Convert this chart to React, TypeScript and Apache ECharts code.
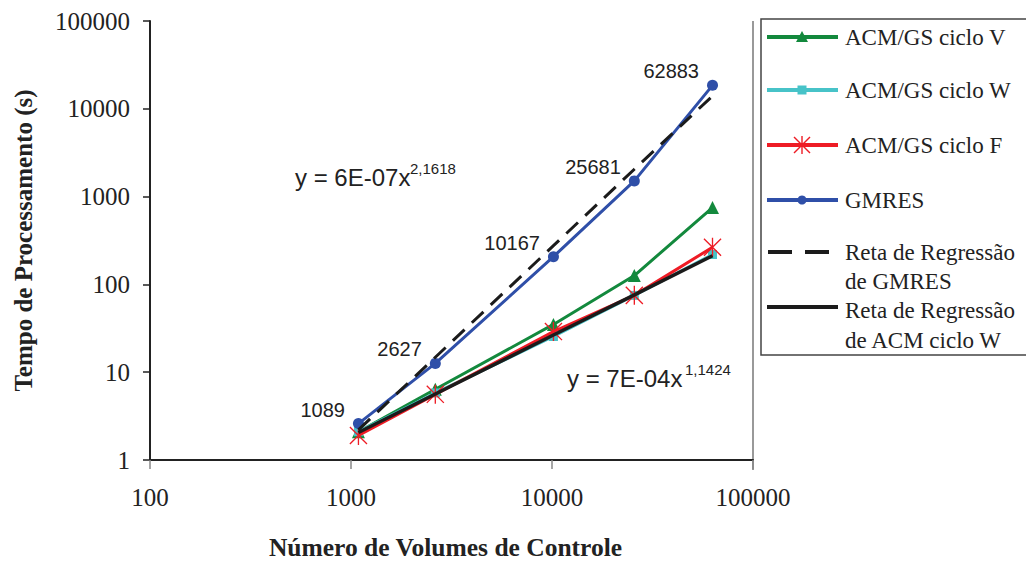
import React, { useEffect, useRef } from "react";
import * as echarts from "echarts";

// ---- data ----
const xValues = [1089, 2627, 10167, 25681, 62883];
const cicloV = [2.1, 6.4, 35, 126, 750];
const cicloW = [2.1, 5.8, 25.5, 75, 219];
const cicloF = [1.9, 5.6, 29, 75, 265];
const gmres = [2.6, 12.6, 207, 1510, 18500];
const regGmres = [2.2, 14.8, 276, 2050, 14000];
const regAcmW = [2.06, 5.65, 26.5, 76, 212];

const xTicks = [100, 1000, 10000, 100000];
const yTicks = [1, 10, 100, 1000, 10000, 100000];

const seriesNames = [
  "ACM/GS ciclo V",
  "ACM/GS ciclo W",
  "ACM/GS ciclo F",
  "GMRES",
  "Reta de Regressão de GMRES",
  "Reta de Regressão de ACM ciclo W",
];
// legend text lines for each entry
const legendLabels = [
  ["ACM/GS ciclo V"],
  ["ACM/GS ciclo W"],
  ["ACM/GS ciclo F"],
  ["GMRES"],
  ["Reta de Regressão", "de GMRES"],
  ["Reta de Regressão", "de ACM ciclo W"],
];
const eqGmres = ["y = 6E-07x", "2,1618"];
const eqAcm = ["y = 7E-04x", "1,1424"];

const GREEN = "#13893d";
const CYAN = "#47c3c8";
const RED = "#ee1c25";
const BLUE = "#2f4fa8";
const BLACK = "#1b1b1b";

const SERIF = "'Liberation Serif', 'Times New Roman', serif";
const SANS = "'Liberation Sans', Arial, sans-serif";

const STAR =
  "path://M9.3,0L10.7,0L10.7,20L9.3,20Z M1.495,0.505L19.495,18.505L18.505,19.495L0.505,1.495Z M19.495,1.495L1.495,19.495L0.505,18.505L18.505,0.505Z";

const pairs = (ys: number[]) => xValues.map((x, i) => [x, ys[i]]);

export default function App() {
  const ref = useRef<HTMLDivElement>(null);
  useEffect(() => {
    if (!ref.current) return;
    const chart = echarts.init(ref.current, null, { renderer: "svg" });

    const lx0 = 767;
    const lx1 = 838;
    const lcx = 802;
    const tx = 845;
    const rowsY = [37, 90, 145, 200, 252, 307];
    const textY = [[37], [90], [145], [200], [252, 281], [310, 340]];
    const legendFont = { fontSize: 23, fontFamily: SERIF, fill: "#222", lineHeight: 22 };

    const legendGraphics: any[] = [
      {
        type: "rect",
        shape: { x: 761, y: 19, width: 266, height: 336 },
        style: { fill: "#fff", stroke: "#444", lineWidth: 1.5 },
      },
      { type: "line", shape: { x1: lx0, y1: rowsY[0], x2: lx1, y2: rowsY[0] }, style: { stroke: GREEN, lineWidth: 4 } },
      {
        type: "polygon",
        shape: { points: [[lcx, rowsY[0] - 6], [lcx - 6, rowsY[0] + 5], [lcx + 6, rowsY[0] + 5]] },
        style: { fill: GREEN },
      },
      { type: "line", shape: { x1: lx0, y1: rowsY[1], x2: lx1, y2: rowsY[1] }, style: { stroke: CYAN, lineWidth: 4 } },
      { type: "rect", shape: { x: lcx - 4.5, y: rowsY[1] - 4.5, width: 9, height: 9 }, style: { fill: CYAN } },
      { type: "line", shape: { x1: lx0, y1: rowsY[2], x2: lx1, y2: rowsY[2] }, style: { stroke: RED, lineWidth: 4 } },
      { type: "line", shape: { x1: lcx, y1: rowsY[2] - 9, x2: lcx, y2: rowsY[2] + 9 }, style: { stroke: RED, lineWidth: 1.4 } },
      { type: "line", shape: { x1: lcx - 8, y1: rowsY[2] - 8, x2: lcx + 8, y2: rowsY[2] + 8 }, style: { stroke: RED, lineWidth: 1.4 } },
      { type: "line", shape: { x1: lcx + 8, y1: rowsY[2] - 8, x2: lcx - 8, y2: rowsY[2] + 8 }, style: { stroke: RED, lineWidth: 1.4 } },
      { type: "line", shape: { x1: lx0, y1: rowsY[3], x2: lx1, y2: rowsY[3] }, style: { stroke: BLUE, lineWidth: 4 } },
      { type: "circle", shape: { cx: lcx, cy: rowsY[3], r: 4.5 }, style: { fill: BLUE } },
      { type: "line", shape: { x1: 768, y1: rowsY[4], x2: 792, y2: rowsY[4] }, style: { stroke: BLACK, lineWidth: 4 } },
      { type: "line", shape: { x1: 805, y1: rowsY[4], x2: 829, y2: rowsY[4] }, style: { stroke: BLACK, lineWidth: 4 } },
      { type: "line", shape: { x1: lx0, y1: rowsY[5], x2: lx1, y2: rowsY[5] }, style: { stroke: BLACK, lineWidth: 4 } },
    ];
    legendLabels.forEach((lines, i) => {
      lines.forEach((t, j) => {
        legendGraphics.push({
          type: "text",
          x: tx,
          y: textY[i][j],
          style: { ...legendFont, text: t, verticalAlign: "middle" },
        });
      });
    });

    const eqFontMain = { fontSize: 24, fontFamily: SANS, fill: "#222", verticalAlign: "middle" };
    const eqFontSup = { fontSize: 15, fontFamily: SANS, fill: "#222", verticalAlign: "middle" };

    const option: any = {
      animation: false,
      backgroundColor: "#fff",
      grid: { left: 150, top: 21, width: 603, height: 440, containLabel: false },
      xAxis: {
        type: "log",
        logBase: 10,
        min: xTicks[0],
        max: xTicks[xTicks.length - 1],
        name: "Número de Volumes de Controle",
        nameLocation: "middle",
        nameGap: 74,
        nameTextStyle: { fontFamily: SERIF, fontSize: 25.5, fontWeight: "bold", color: "#222", padding: [0, 12, 0, 0] },
        axisLine: { show: true, lineStyle: { color: "#222", width: 2 } },
        axisTick: { show: true, inside: false, length: 9, lineStyle: { color: "#888", width: 1.5 } },
        axisLabel: {
          fontFamily: SERIF,
          fontSize: 25,
          color: "#222",
          margin: 25,
          formatter: (v: number) => String(Math.round(v)),
        },
        splitLine: { show: false },
        minorTick: { show: false },
      },
      yAxis: {
        type: "log",
        logBase: 10,
        min: yTicks[0],
        max: yTicks[yTicks.length - 1],
        name: "Tempo de Processamento (s)",
        nameLocation: "middle",
        nameGap: 114,
        nameTextStyle: { fontFamily: SERIF, fontSize: 25, fontWeight: "bold", color: "#222" },
        axisLine: { show: true, lineStyle: { color: "#222", width: 2 } },
        axisTick: { show: true, inside: false, length: 7, lineStyle: { color: "#222", width: 1.5 } },
        axisLabel: {
          fontFamily: SERIF,
          fontSize: 25,
          color: "#222",
          margin: 20,
          formatter: (v: number) => String(Math.round(v)),
        },
        splitLine: { show: false },
        minorTick: { show: false },
      },
      series: [
        {
          name: seriesNames[0],
          type: "line",
          data: pairs(cicloV),
          symbol: "triangle",
          symbolSize: 13,
          itemStyle: { color: GREEN },
          lineStyle: { color: GREEN, width: 3 },
          z: 2,
        },
        {
          name: seriesNames[1],
          type: "line",
          data: pairs(cicloW),
          symbol: "rect",
          symbolSize: 9,
          itemStyle: { color: CYAN },
          lineStyle: { color: CYAN, width: 3 },
          z: 3,
        },
        {
          name: seriesNames[2],
          type: "line",
          data: pairs(cicloF),
          symbol: STAR,
          symbolSize: 19,
          symbolKeepAspect: true,
          itemStyle: { color: RED },
          lineStyle: { color: RED, width: 3 },
          z: 4,
        },
        {
          name: seriesNames[3],
          type: "line",
          data: pairs(gmres),
          symbol: "circle",
          symbolSize: 11,
          itemStyle: { color: BLUE },
          lineStyle: { color: BLUE, width: 3 },
          label: {
            show: true,
            position: "left",
            distance: 8,
            offset: [0, -14],
            formatter: (p: any) => String(p.value[0]),
            fontFamily: SANS,
            fontSize: 20,
            color: "#222",
          },
          z: 5,
        },
        {
          name: seriesNames[4],
          type: "line",
          data: pairs(regGmres),
          symbol: "none",
          lineStyle: { color: BLACK, width: 3, type: [16, 10] },
          z: 6,
        },
        {
          name: seriesNames[5],
          type: "line",
          data: pairs(regAcmW),
          symbol: "none",
          lineStyle: { color: BLACK, width: 3.5 },
          z: 7,
        },
      ],
      graphic: [
        {
          type: "line",
          shape: { x1: 753, y1: 21, x2: 753, y2: 470 },
          style: { stroke: "#777", lineWidth: 1.5 },
        },
        { type: "text", x: 295, y: 177, style: { ...eqFontMain, text: eqGmres[0] } },
        { type: "text", x: 410, y: 168, style: { ...eqFontSup, text: eqGmres[1] } },
        { type: "text", x: 567, y: 378, style: { ...eqFontMain, text: eqAcm[0] } },
        { type: "text", x: 685, y: 369, style: { ...eqFontSup, text: eqAcm[1] } },
        ...legendGraphics,
      ],
    };
    chart.setOption(option);
    return () => chart.dispose();
  }, []);

  return <div ref={ref} style={{ width: 1034, height: 565, margin: -8 }} />;
}
